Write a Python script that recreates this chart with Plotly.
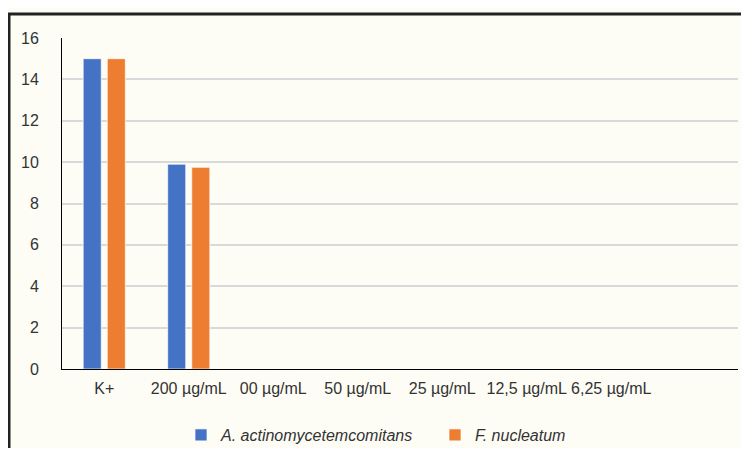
import plotly.graph_objects as go

categories = ["K+", "200 µg/mL", "00 µg/mL", "50 µg/mL", "25 µg/mL", "12,5 µg/mL", "6,25 µg/mL"]
aa_values = [15.0, 9.9, 0, 0, 0, 0, 0]
fn_values = [15.0, 9.75, 0, 0, 0, 0, 0]
series_names = ["<i>A. actinomycetemcomitans</i>", "<i>F. nucleatum</i>"]
y_ticks = [0, 2, 4, 6, 8, 10, 12, 14, 16]

# page body has an 8px margin on every side, so the figure is kept 16px smaller
OFF = 8
W, H = 749 - 2 * OFF, 456 - 2 * OFF
ML, MT = 62 - OFF, 38 - OFF
MR = W - (738 - OFF)
MB = H - (369 - OFF)
pw, ph = W - ML - MR, H - MT - MB

def px_x(x):
    return (x - OFF - ML) / pw

def px_y(y):
    return 1 - (y - OFF - MT) / ph

def cx(x):
    return (x - OFF) / W

def cy(y):
    return 1 - (y - OFF) / H

fig = go.Figure()
fig.add_trace(go.Bar(x=categories, y=aa_values, name=series_names[0],
                     marker=dict(color="#4472C4", line=dict(color="rgba(255,255,255,0.7)", width=1))))
fig.add_trace(go.Bar(x=categories, y=fn_values, name=series_names[1],
                     marker=dict(color="#ED7D31", line=dict(color="rgba(255,255,255,0.7)", width=1))))

fig.update_layout(
    width=W, height=H,
    margin=dict(l=ML, r=MR, t=MT, b=MB, pad=0, autoexpand=False),
    paper_bgcolor="#FDFDF6",
    plot_bgcolor="rgba(0,0,0,0)",
    font=dict(family="Liberation Sans, Arial, sans-serif", size=16, color="#333333"),
    barmode="group",
    bargap=0.43,
    bargroupgap=0.25,
    showlegend=True,
    legend=dict(orientation="h", xref="container", yref="container",
                x=cx(181), xanchor="left", y=cy(435), yanchor="middle",
                font=dict(size=16, color="#333333"), itemwidth=30, bgcolor="rgba(0,0,0,0)",
                entrywidth=209, traceorder="normal"),
    xaxis=dict(type="category", range=[-0.5, 7.5], showline=True, linecolor="#000000", linewidth=1,
               ticks="", showgrid=False, ticklabelstandoff=5, fixedrange=True, automargin=False),
    yaxis=dict(range=[0, 16], tickvals=y_ticks, showline=True, linecolor="#000000", linewidth=1,
               gridcolor="#D9D9D9", gridwidth=1.5, zeroline=False, ticks="", ticklabelstandoff=19,
               automargin=False),
    shapes=[
        dict(type="line", xref="paper", yref="paper", x0=px_x(8), x1=px_x(760), y0=px_y(14), y1=px_y(14),
             line=dict(color="#222222", width=3)),
        dict(type="line", xref="paper", yref="paper", x0=px_x(9), x1=px_x(9), y0=px_y(13), y1=px_y(470),
             line=dict(color="#222222", width=3)),
    ],
)

fig.write_html("out.html")
